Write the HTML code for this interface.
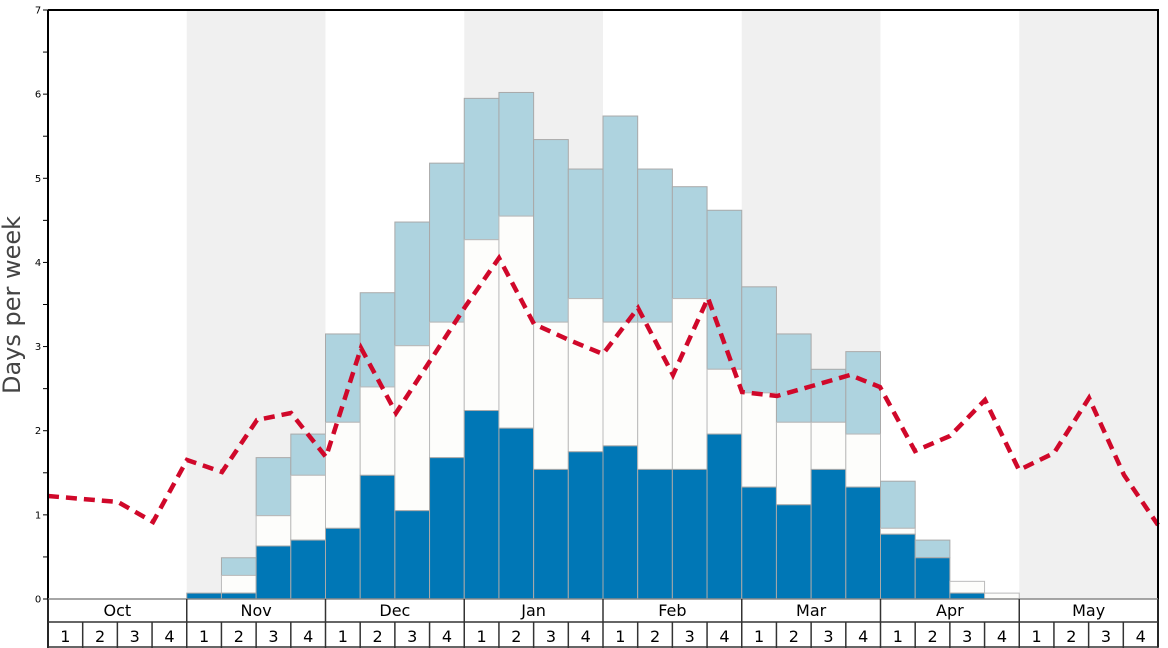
<!DOCTYPE html>
<html><head><meta charset="utf-8"><style>
html,body{margin:0;padding:0;background:#fff}
svg{display:block}
text{font-family:"DejaVu Sans","Liberation Sans",sans-serif}
</style></head><body>
<svg id="s" width="1168" height="648" viewBox="0 0 1168 648" xmlns="http://www.w3.org/2000/svg"></svg>
<script>
(function(){
var s=document.getElementById('s');var h='';
var X0=48,W=1110/32,Y0=599,U=(599-10)/7;
function x(i){return X0+i*W}function y(v){return Y0-v*U}
[1,3,5,7].forEach(function(m){h+='<rect x="'+x(m*4)+'" y="10" width="'+(4*W)+'" height="589" fill="#f0f0f0"/>';});
var d=[[4,.07,.07,.07],[5,.07,.28,.49],[6,.63,.99,1.68],[7,.70,1.47,1.96],[8,.84,2.10,3.15],[9,1.47,2.52,3.64],[10,1.05,3.01,4.48],[11,1.68,3.29,5.18],[12,2.24,4.27,5.95],[13,2.03,4.55,6.02],[14,1.54,3.29,5.46],[15,1.75,3.57,5.11],[16,1.82,3.29,5.74],[17,1.54,3.29,5.11],[18,1.54,3.57,4.90],[19,1.96,2.73,4.62],[20,1.33,2.45,3.71],[21,1.12,2.10,3.15],[22,1.54,2.10,2.73],[23,1.33,1.96,2.94],[24,.77,.84,1.40],[25,.49,.49,.70],[26,.07,.21,.21],[27,0,.07,.07]];
d.forEach(function(r){var i=r[0],xa=x(i);
 if(r[3]>r[2])h+='<rect x="'+xa+'" y="'+y(r[3])+'" width="'+W+'" height="'+(y(r[2])-y(r[3]))+'" fill="#aed3df" stroke="#a9a9a9" stroke-width="1"/>';
 if(r[2]>r[1])h+='<rect x="'+xa+'" y="'+y(r[2])+'" width="'+W+'" height="'+(y(r[1])-y(r[2]))+'" fill="#fdfdfb" stroke="#bbb" stroke-width="1"/>';
 if(r[1]>0)h+='<rect x="'+xa+'" y="'+y(r[1])+'" width="'+W+'" height="'+(Y0-y(r[1]))+'" fill="#0077b6" stroke="#a9a9a9" stroke-width="1"/>';
});
var pts=[[48,496],[83,499],[118,502],[153,522],[187,460],[222,472],[257,420],[291,413],[326,457],[361,348],[396,413],[430,361],[465,307],[499,258],[534,324],[569,340],[603,354],[638,308],[673,375],[708,298],[742,392],[777,396],[812,386],[850,375],[880,387],[915,451],[950,436],[985,400],[1019,470],[1054,453],[1089,398],[1124,475],[1158,525]];
h+='<polyline points="'+pts.map(function(p){return p.join(',')}).join(' ')+'" fill="none" stroke="#d0082a" stroke-width="4.5" stroke-dasharray="11,7"/>';
h+='<path d="M48,10H1158V647" fill="none" stroke="#000" stroke-width="2"/>';
h+='<line x1="48" y1="10" x2="48" y2="648" stroke="#000" stroke-width="2"/>';
h+='<line x1="48" y1="599" x2="1158" y2="599" stroke="#888" stroke-width="1.5"/>';
h+='<line x1="48" y1="622" x2="1158" y2="622" stroke="#333" stroke-width="1.5"/>';
h+='<line x1="48" y1="647" x2="1158" y2="647" stroke="#333" stroke-width="1.5"/>';
for(var i=0;i<=32;i++){var xx=x(i);var yt=(i%4==0)?599:622;h+='<line x1="'+xx+'" y1="'+yt+'" x2="'+xx+'" y2="648" stroke="#333" stroke-width="1.5"/>';
 if(i<32)h+='<text x="'+(xx+W/2)+'" y="642" font-size="16" text-anchor="middle" fill="#000">'+(i%4+1)+'</text>';}
['Oct','Nov','Dec','Jan','Feb','Mar','Apr','May'].forEach(function(m,k){h+='<text x="'+(x(k*4)+2*W)+'" y="616" font-size="16" text-anchor="middle" fill="#000">'+m+'</text>';});
for(var v=0;v<=14;v++){var yy=y(v/2);h+='<line x1="43" y1="'+yy+'" x2="48" y2="'+yy+'" stroke="#000" stroke-width="1"/>';
 if(v%2==0)h+='<text x="38" y="'+(yy+3.5)+'" font-size="10" text-anchor="middle" fill="#000">'+(v/2)+'</text>';}
h+='<text transform="translate(20,305) rotate(-90)" font-size="24" text-anchor="middle" fill="#444">Days per week</text>';
s.innerHTML=h;
})();
</script>
</body></html>
